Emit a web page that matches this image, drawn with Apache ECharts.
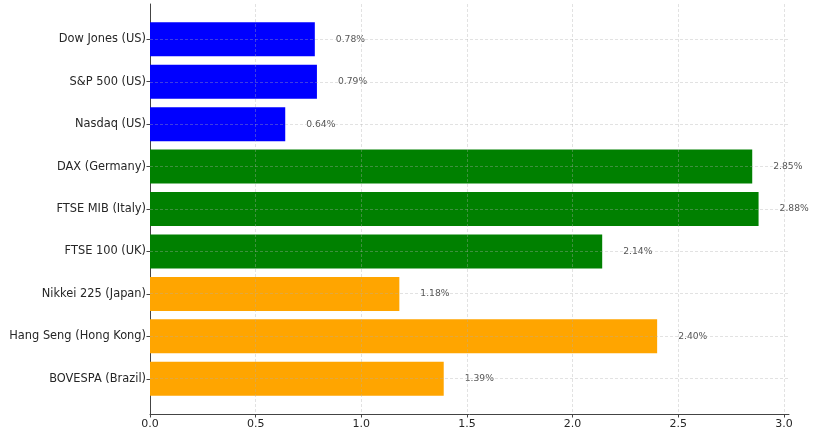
<!DOCTYPE html>
<html><head><meta charset="utf-8">
<script src="https://cdn.jsdelivr.net/npm/echarts@6/dist/echarts.min.js"></script>
<style>html,body{margin:0;padding:0;background:#fff}#c{width:820px;height:430px}</style>
</head><body><div id="c"></div>
<script>
const categories = ['Dow Jones (US)','S&P 500 (US)','Nasdaq (US)','DAX (Germany)','FTSE MIB (Italy)','FTSE 100 (UK)','Nikkei 225 (Japan)','Hang Seng (Hong Kong)','BOVESPA (Brazil)'];
const values = [0.78, 0.79, 0.64, 2.85, 2.88, 2.14, 1.18, 2.40, 1.39];
const regions = ['US','US','US','Europe','Europe','Europe','Other','Other','Other'];
const xTicks = [0, 0.5, 1.0, 1.5, 2.0, 2.5, 3.0];

const regionColors = { US: '#0000ff', Europe: '#008000', Other: '#ffa500' };
const FONT = 'DejaVu Sans';
const X_MAX = 3.024;
const gridColor = 'rgba(175,175,175,0.45)';

const chart = echarts.init(document.getElementById('c'), null, { renderer: 'canvas' });
chart.setOption({
  animation: false,
  backgroundColor: '#fff',
  grid: [
    { left: 150, right: 31, top: 4, bottom: 16 },
    { left: 150, right: 31, top: 39.3, bottom: 51.2 }
  ],
  xAxis: [
    {
      gridIndex: 0, type: 'value', min: 0, max: X_MAX,
      axisLine: { show: true, onZero: false, lineStyle: { color: '#444', width: 1 } },
      axisTick: { show: true, length: 3.5, lineStyle: { color: '#444' }, customValues: xTicks },
      axisLabel: { show: true, customValues: xTicks, margin: 5, fontSize: 11, fontFamily: FONT, color: '#262626',
        formatter: v => xTicks.includes(v) ? v.toFixed(1) : '' },
      splitLine: { show: false }
    },
    { gridIndex: 1, type: 'value', min: 0, max: X_MAX, show: false }
  ],
  yAxis: [
    {
      gridIndex: 0, type: 'value', min: -0.84, max: categories.length - 1 + 0.84, inverse: true,
      axisLine: { show: true, onZero: false, lineStyle: { color: '#444', width: 1 } },
      axisTick: { show: false }, axisLabel: { show: false }, splitLine: { show: false }
    },
    {
      gridIndex: 1, type: 'category', data: categories, inverse: true, boundaryGap: false,
      axisLine: { show: false },
      axisTick: { show: true, length: 3.5, lineStyle: { color: '#444' } },
      axisLabel: { margin: 4, fontSize: 11.4, fontFamily: FONT, color: '#262626' },
      splitLine: { show: false }
    }
  ],
  series: [
    {
      type: 'bar', xAxisIndex: 1, yAxisIndex: 1, barWidth: 34, clip: false, z: 2,
      data: values.map((v, i) => ({ value: v, itemStyle: { color: regionColors[regions[i]] } })),
      label: {
        show: true, position: 'right', distance: 21,
        formatter: p => p.value.toFixed(2) + '%',
        fontSize: 9.2, fontFamily: FONT, color: '#555'
      }
    },
    {
      type: 'line', xAxisIndex: 0, yAxisIndex: 0, data: [], z: 10, silent: true,
      markLine: {
        silent: true, symbol: 'none', animation: false,
        label: { show: false },
        lineStyle: { type: [3, 2], color: gridColor, width: 0.8 },
        data: [
          ...xTicks.filter(v => v > 0).map(v => ({ xAxis: v })),
          ...categories.map((c, i) => ({ yAxis: i }))
        ]
      }
    }
  ]
});
</script></body></html>
